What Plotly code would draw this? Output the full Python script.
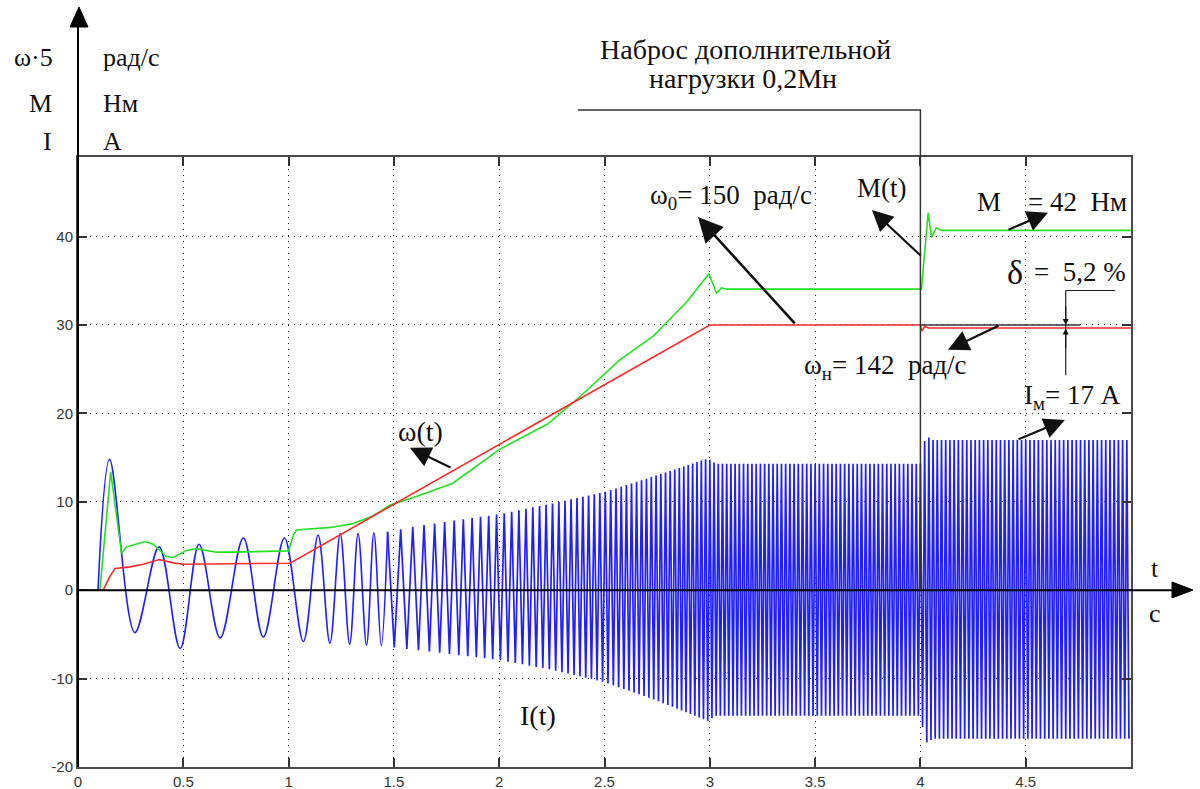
import numpy as np
import plotly.graph_objects as go

# ---------------- data ----------------
# current I(t): early extrema (time s, value A)
i_early_t = [0.095, 0.15, 0.27, 0.385, 0.485, 0.575, 0.675, 0.785, 0.88, 0.98,
             1.07, 1.14, 1.196, 1.245, 1.29, 1.33, 1.37, 1.405, 1.44, 1.47]
i_early_v = [0.0, 14.8, -4.8, 4.9, -6.6, 5.2, -5.4, 5.9, -5.3, 5.9,
             -5.8, 6.25, -6.0, 6.4, -6.1, 6.4, -6.2, 6.5, -6.3, 6.6]
# current I(t): envelope of the dense oscillation and its supply frequency
i_env_t = [1.47, 1.62, 2.0, 2.25, 2.5, 2.75, 2.99, 3.03, 4.0, 4.025, 4.06, 5.0]
i_env_upper = [6.6, 7.3, 8.6, 9.8, 11.1, 13.0, 14.9, 14.3, 14.3, 17.5, 17.0, 17.0]
i_env_lower = [-6.4, -6.8, -7.9, -9.0, -10.4, -12.5, -14.8, -14.2, -14.2, -17.3, -16.8, -16.8]
i_freq_t = [1.0, 3.0, 5.0]
i_freq_hz = [5.2, 50.0, 50.0]

# torque M(t)
m_t = [0.0, 0.104, 0.155, 0.207, 0.23, 0.319, 0.357, 0.42, 0.453, 0.516, 0.563, 0.658,
       0.737, 1.0, 1.022, 1.038, 1.2, 1.3, 1.4, 1.48, 1.62, 1.78, 2.0, 2.23, 2.37,
       2.57, 2.73, 2.89, 2.996, 3.032, 3.056, 3.08, 4.005, 4.02, 4.037, 4.053,
       4.075, 4.1, 5.0]
m_v = [0.0, 0.0, 13.4, 4.15, 4.9, 5.5, 5.2, 3.8, 3.7, 4.5, 4.7, 4.3,
       4.3, 4.45, 6.2, 6.8, 7.1, 7.5, 8.4, 9.6, 10.7, 12.1, 15.9, 18.8, 21.6,
       26.0, 28.7, 32.6, 35.8, 33.6, 34.2, 34.05, 34.05, 38.0, 42.7, 39.9,
       41.0, 40.7, 40.7]

# speed omega(t) (scaled)
w_t = [0.0, 0.12, 0.15, 0.176, 0.247, 0.31, 0.386, 0.452, 0.5, 1.007, 3.0, 4.0,
       4.006, 4.02, 4.04, 5.0]
w_v = [0.0, 0.0, 1.5, 2.45, 2.64, 2.94, 3.47, 3.09, 2.94, 3.05, 30.0, 30.0,
       29.3, 29.8, 29.65, 29.65]

x_tick_vals = [0, 0.5, 1, 1.5, 2, 2.5, 3, 3.5, 4, 4.5, 5]
x_tick_text = ["0", "0.5", "1", "1.5", "2", "2.5", "3", "3.5", "4", "4.5", ""]
y_tick_vals = [-20, -10, 0, 10, 20, 30, 40]
y_tick_text = ["-20", "-10", "0", "10", "20", "30", "40"]

# build the dense oscillation from the envelope and frequency read above
dense_t = [i_early_t[-1]]
dense_v = [i_early_v[-1]]
t = i_early_t[-1]
sign = 1
while True:
    t += 0.5 / float(np.interp(t, i_freq_t, i_freq_hz))
    if t > 4.995:
        break
    sign = -sign
    env = i_env_upper if sign > 0 else i_env_lower
    dense_t.append(t)
    dense_v.append(float(np.interp(t, i_env_t, env)))

# ---------------- figure ----------------
W, H = 1200, 789
L, R, T, B = 78, 1131, 157, 767


def px(x):
    return (x - L) / (R - L)


def py(y):
    return (B - y) / (B - T)


BLUE = "#1f1fff"
GREEN = "#22e022"
RED = "#ff2a2a"
SERIF = "Liberation Serif, Times New Roman, serif"

fig = go.Figure()
fig.add_trace(go.Scatter(x=i_early_t, y=i_early_v, mode="lines",
                         line=dict(color=BLUE, width=1.6, shape="spline", smoothing=1.0),
                         hoverinfo="skip"))
fig.add_trace(go.Scatter(x=dense_t, y=dense_v, mode="lines",
                         line=dict(color=BLUE, width=1.7), hoverinfo="skip"))
fig.add_trace(go.Scatter(x=m_t, y=m_v, mode="lines",
                         line=dict(color=GREEN, width=1.6), hoverinfo="skip"))
fig.add_trace(go.Scatter(x=w_t, y=w_v, mode="lines",
                         line=dict(color=RED, width=1.6), hoverinfo="skip"))

axis_common = dict(
    showline=True, linecolor="#4a4a4a", linewidth=2, mirror="ticks",
    ticks="inside", ticklen=9, tickwidth=1.5, tickcolor="#333",
    showgrid=True, gridcolor="#222", gridwidth=1, griddash="1px,5px",
    zeroline=False, automargin=False,
    tickfont=dict(family="Liberation Sans, Arial, sans-serif", size=15, color="#333"),
)
fig.update_xaxes(range=[0, 5], tickvals=x_tick_vals, ticktext=x_tick_text, **axis_common)
fig.update_yaxes(range=[-20, 49], tickvals=y_tick_vals, ticktext=y_tick_text, **axis_common)

shapes = []
# y axis with arrow
shapes.append(dict(type="line", xref="paper", yref="paper", x0=0, x1=0,
                   y0=0, y1=py(22), line=dict(color="black", width=2)))
shapes.append(dict(type="path", xref="paper", yref="paper",
                   path=f"M {px(70)} {py(27)} L {px(79)} {py(7)} L {px(88)} {py(27)} Z",
                   fillcolor="black", line=dict(color="black", width=1)))
# x axis with arrow
shapes.append(dict(type="line", xref="paper", yref="y", x0=0, x1=px(1178),
                   y0=0, y1=0, line=dict(color="black", width=2)))
shapes.append(dict(type="path", xref="paper", yref="paper",
                   path=f"M {px(1172)} {py(582)} L {px(1193)} {py(590)} L {px(1172)} {py(598)} Z",
                   fillcolor="black", line=dict(color="black", width=1)))
# bracket of the load step
shapes.append(dict(type="line", xref="paper", yref="paper", x0=px(578), x1=px(921),
                   y0=py(110), y1=py(110), line=dict(color="#333", width=1.5)))
shapes.append(dict(type="line", xref="x", yref="paper", x0=4, x1=4,
                   y0=py(590), y1=py(110), line=dict(color="#333", width=1.5)))
# reference line omega0 after the load step
shapes.append(dict(type="line", xref="x", yref="y", x0=4, x1=4.76, y0=30, y1=30,
                   line=dict(color="#333", width=1.5)))
# delta bracket
shapes.append(dict(type="line", xref="x", yref="y", x0=4.69, x1=4.69, y0=24.3, y1=33.9,
                   line=dict(color="#222", width=1.2)))
shapes.append(dict(type="line", xref="x", yref="y", x0=4.69, x1=4.925, y0=33.9, y1=33.9,
                   line=dict(color="#222", width=1.2)))
fig.update_layout(shapes=shapes)

ann = []


def text(s, x, y, size=27, xanchor="center"):
    ann.append(dict(text=s, xref="paper", yref="paper", x=px(x), y=py(y),
                    xanchor=xanchor, yanchor="middle", showarrow=False,
                    font=dict(family=SERIF, size=size, color="#111")))


def arrow(x_tip, y_tip, x_tail, y_tail, width=2.2, size=1.9):
    ann.append(dict(text="", x=x_tip, y=y_tip, ax=x_tail, ay=y_tail,
                    xref="x", yref="y", axref="x", ayref="y", showarrow=True,
                    arrowhead=2, arrowsize=size, arrowwidth=width, arrowcolor="#111"))


NB = "\u00a0"
text("Наброс дополнительной", 745, 50, 28)
text("нагрузки 0,2Мн", 743, 78, 28)
text("ω·5", 55, 57, 26, "right")
text("М", 54, 103, 26, "right")
text("I", 54, 141, 26, "right")
text("рад/с", 101, 57, 26, "left")
text("Нм", 101, 103, 26, "left")
text("А", 101, 141, 26, "left")
text("t", 1155, 568, 26)
text("c", 1155, 613, 26)
text(f"ω<sub>0</sub>={NB}150{NB}{NB}рад/с", 731, 197, 27)
text("М(t)", 882, 188, 27)
text(f"М{NB}{NB}{NB}{NB}={NB}42{NB}{NB}Нм", 1052, 202, 27)
text("δ", 1015, 272, 34)
text(f"={NB}{NB}5,2{NB}%", 1080, 272, 27)
text(f"ω<sub>н</sub>={NB}142{NB}{NB}рад/с", 885, 367, 27)
text(f"I<sub>м</sub>={NB}17{NB}A", 1072, 397, 27)
text("ω(t)", 420, 432, 28)
text("I(t)", 538, 715, 28)

arrow(2.944, 42.2, 3.41, 30.0, 2.6)
arrow(3.77, 43.0, 4.008, 37.7)
arrow(4.606, 42.7, 4.411, 40.7)
arrow(4.131, 27.2, 4.378, 30.0)
arrow(4.686, 19.25, 4.459, 17.0)
arrow(1.576, 16.1, 1.776, 13.8)
arrow(4.69, 30.0, 4.69, 32.3, 1.2, 1.0)
arrow(4.69, 29.6, 4.69, 27.2, 1.2, 1.0)
fig.update_layout(annotations=ann)

fig.update_layout(width=W, height=H, showlegend=False,
                  margin=dict(l=L, r=W - R, t=T, b=H - B, pad=0),
                  paper_bgcolor="white", plot_bgcolor="white")

fig.write_html("out.html", config={"displayModeBar": False},
               post_script="document.body.style.margin='0px';document.body.style.overflow='hidden';")
